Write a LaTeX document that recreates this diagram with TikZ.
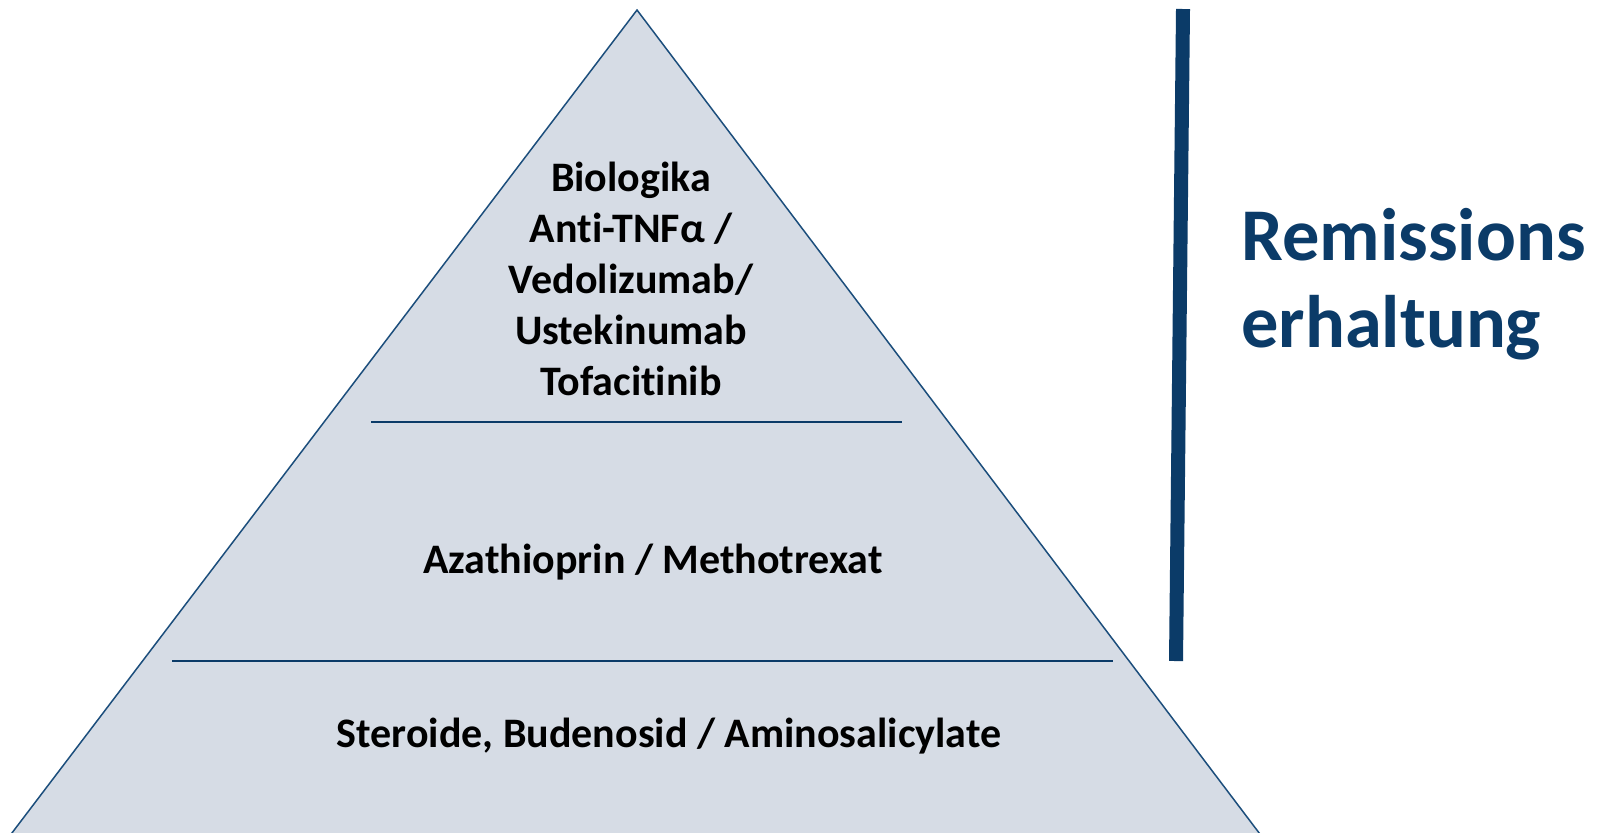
\documentclass[tikz,border=0pt]{standalone}
\usepackage{fontspec}
\setmainfont[Ligatures={NoCommon,NoRequired,NoContextual},RawFeature={-liga;-clig;-calt;-dlig}]{Carlito}
\usepackage{tikz}
\usetikzlibrary{positioning}
\definecolor{navyline}{HTML}{0B3B68}
\definecolor{tierfill}{HTML}{D6DCE5}
\definecolor{tierline}{HTML}{1C4E7C}

\begin{document}
\begin{tikzpicture}[x=0.5pt,y=-0.5pt,
    tiertext/.style={font=\fontsize{21}{25.4}\selectfont\bfseries,align=center,inner sep=0pt},
    sidetext/.style={font=\fontsize{37.2}{43.4}\selectfont\bfseries,text=navyline,align=left,inner sep=0pt}]
    \useasboundingbox (0,0) rectangle (1609,832);
    \clip (0,0) rectangle (1609,832);
    % pyramid
    \coordinate (apex) at (637,10);
    \coordinate (baseL) at (-1,850);
    \coordinate (baseR) at (1272,850);
    \filldraw[tierline,fill=tierfill,line width=0.75pt,line join=miter] (baseL) -- (apex) -- (baseR);
    % tier borders
    \coordinate (upL) at (371,422);
    \coordinate (upR) at (902,422);
    \coordinate (lowL) at (172,661);
    \coordinate (lowR) at (1113,661);
    \draw[navyline,line width=1.2pt] (upL) -- (upR);
    \draw[navyline,line width=1.2pt] (lowL) -- (lowR);
    % labels
    \node[tiertext] (bio) at (631,279) {Biologika\\An\kern0ptti-TNFα /\\Vedolizumab/\\Ustekinumab\\Tofac\kern0pti\kern0ptti\kern0ptnib};
    \node[tiertext] (immuno) at (653,562) {Azathioprin / Methotrexat};
    \node[tiertext] (basis) at (669,736) {Steroide, Budenosid / Aminosalicylate};
    % right side
    \coordinate (barTop) at (1183,9);
    \coordinate (barBot) at (1176,661);
    \draw[navyline,line width=7pt] (barTop) -- (barBot);
    \node[sidetext,anchor=west] (goal) at (1241,284) {Remissions\\erhaltung};
\end{tikzpicture}
\end{document}
